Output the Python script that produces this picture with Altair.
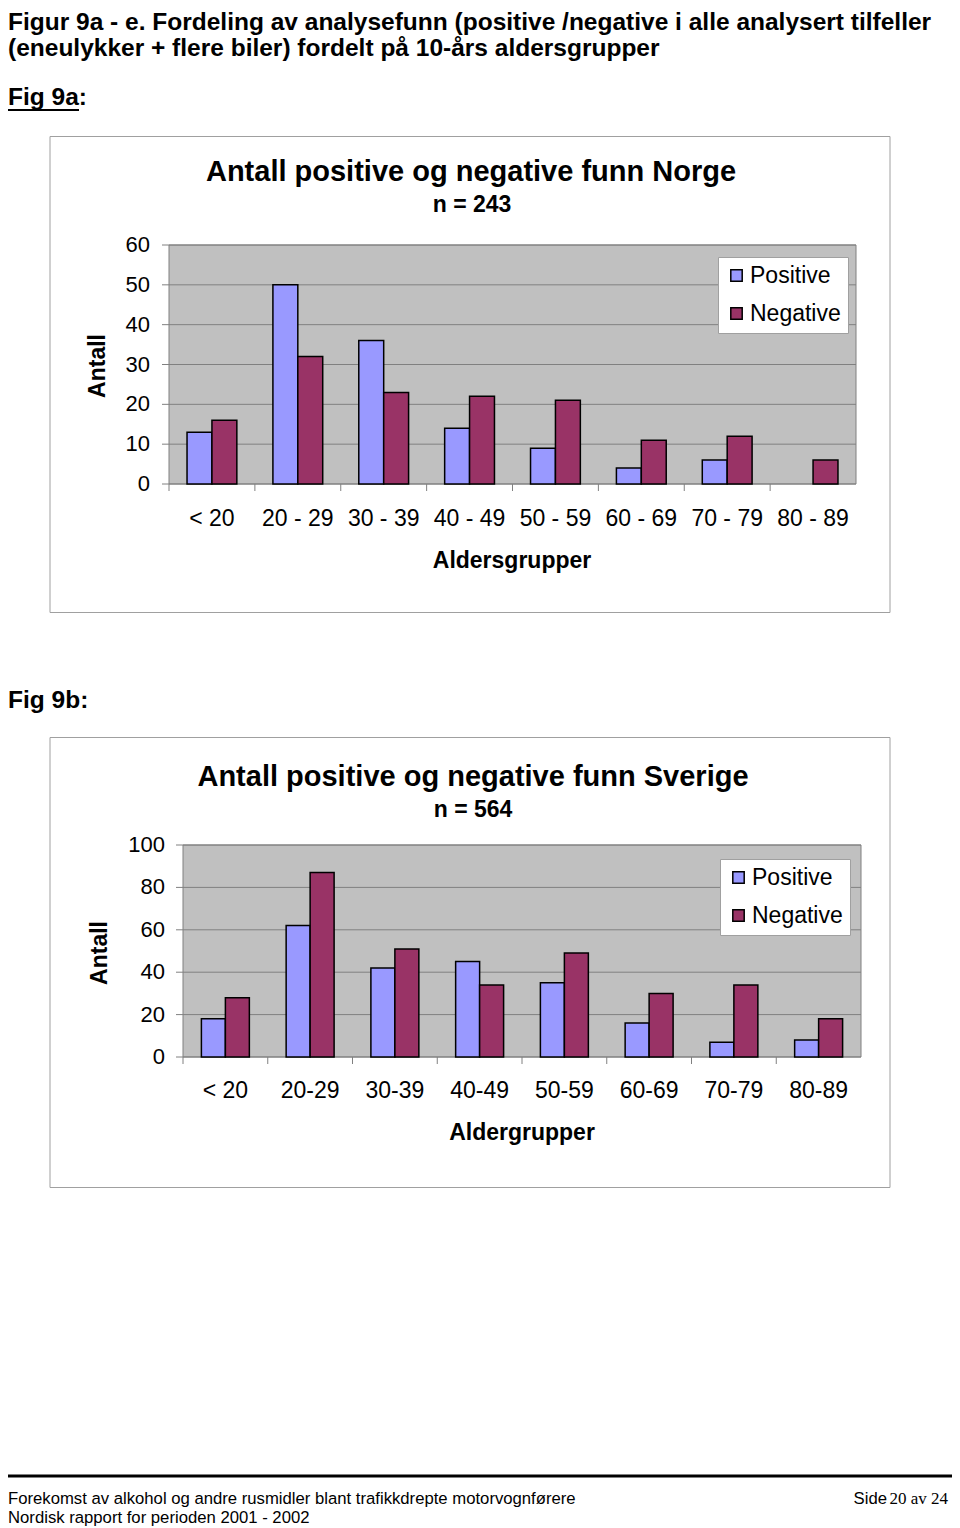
import altair as alt
import pandas as pd

SANS = "Liberation Sans"
SERIF = "Liberation Serif"

# ---------------- data ----------------
series = ["Positive", "Negative"]
colors = ["#9999ff", "#993366"]

categories_no = ["< 20", "20 - 29", "30 - 39", "40 - 49", "50 - 59", "60 - 69", "70 - 79", "80 - 89"]
positive_no = [13, 50, 36, 14, 9, 4, 6, 0]
negative_no = [16, 32, 23, 22, 21, 11, 12, 6]
ticks_no = [0, 10, 20, 30, 40, 50, 60]

categories_se = ["< 20", "20-29", "30-39", "40-49", "50-59", "60-69", "70-79", "80-89"]
positive_se = [18, 62, 42, 45, 35, 16, 7, 8]
negative_se = [28, 87, 51, 34, 49, 30, 34, 18]
ticks_se = [0, 20, 40, 60, 80, 100]

header_lines = [
    "Figur 9a - e. Fordeling av analysefunn (positive /negative i alle analysert tilfeller",
    "(eneulykker + flere biler) fordelt på 10-års  aldersgrupper",
]
footer_lines = [
    "Forekomst av alkohol og andre rusmidler blant trafikkdrepte motorvognførere",
    "Nordisk rapport for perioden 2001 - 2002",
]

W = 944
ONE = pd.DataFrame({"a": [0]})


def txt(s, x, y, size, weight="normal", align="left", angle=0, font=SANS, baseline="middle"):
    return alt.Chart(pd.DataFrame({"t": [s]})).mark_text(
        align=align, baseline=baseline, fontSize=size, fontWeight=weight,
        font=font, angle=angle, color="black"
    ).encode(x=alt.value(x), y=alt.value(y), text="t:N")


def box(x0, x1, y0, y1, fill, stroke=None, sw=1):
    kw = dict(fill=fill, strokeWidth=sw)
    if stroke:
        kw["stroke"] = stroke
    return alt.Chart(ONE).mark_rect(**kw).encode(
        x=alt.value(x0), x2=alt.value(x1), y=alt.value(y0), y2=alt.value(y1))


def panel(cats, pos, neg, ticks, g):
    H = g["H"]
    df = pd.DataFrame({
        "cat": cats * 2,
        "series": [series[0]] * len(cats) + [series[1]] * len(cats),
        "value": pos + neg,
    })
    tdf = pd.DataFrame({"v": ticks})
    cdf = pd.DataFrame({"cat": cats})
    px0, px1, py0, py1 = g["plot"]
    p = g["pad"]
    xs = alt.Scale(domain=cats, range=[px0, px1], paddingInner=p, paddingOuter=p / 2)
    ys = alt.Scale(domain=[ticks[0], ticks[-1]], range=[py1, py0], nice=False, zero=True)
    step = (px1 - px0) / len(cats)

    layers = [
        box(42, 882, 0.5, H - 0.5, "white", "#a0a0a0"),
        box(px0, px1, py0, py1, "#c0c0c0", "#808080"),
        alt.Chart(tdf).mark_rule(color="#808080", strokeWidth=1).encode(
            y=alt.Y("v:Q", scale=ys, axis=None), x=alt.value(px0 - 7), x2=alt.value(px1)),
        alt.Chart(cdf).mark_rule(color="#808080", strokeWidth=1, xOffset=-step * p / 2).encode(
            x=alt.X("cat:N", scale=xs, axis=None, bandPosition=0),
            y=alt.value(py1), y2=alt.value(py1 + 7)),
        alt.Chart(df).transform_filter("datum.value > 0").mark_bar(
            stroke="black", strokeWidth=1.5, opacity=1
        ).encode(
            x=alt.X("cat:N", scale=xs, axis=None),
            xOffset=alt.XOffset("series:N", scale=alt.Scale(domain=series)),
            y=alt.Y("value:Q", scale=ys, axis=None),
            color=alt.Color("series:N", scale=alt.Scale(domain=series, range=colors),
                            legend=alt.Legend(
                                orient="none", legendX=g["leg"][0], legendY=g["leg"][1],
                                title=None, fillColor="white", strokeColor="#a0a0a0",
                                padding=7, symbolType="square", symbolSize=130,
                                symbolStrokeColor="black", symbolStrokeWidth=1.5,
                                symbolOpacity=1, labelFontSize=23, labelFont=SANS,
                                labelColor="black", rowPadding=14, labelOffset=2,
                                labelLimit=0)),
        ),
        alt.Chart(tdf).mark_text(align="right", baseline="middle", fontSize=22, font=SANS,
                                 color="black").encode(
            y=alt.Y("v:Q", scale=ys, axis=None), x=alt.value(g["ylab_x"]), text="v:Q"),
        alt.Chart(cdf).mark_text(align="center", baseline="middle", fontSize=23, font=SANS,
                                 color="black").encode(
            x=alt.X("cat:N", scale=xs, axis=None), y=alt.value(g["xlab_y"]), text="cat:N"),
        txt(g["title"], g["title_xy"][0], g["title_xy"][1], 29, "bold", "center"),
        txt(g["n"], g["n_xy"][0], g["n_xy"][1], 23, "bold", "center"),
        txt("Antall", g["ylab_title"][0], g["ylab_title"][1], 23, "bold", "center", angle=270),
        txt(g["xtitle"], g["xtitle_xy"][0], g["xtitle_xy"][1], 23, "bold", "center"),
    ]
    return alt.layer(*layers).properties(width=W, height=H)


# ---------------- sections ----------------
HF = 24.5
header = alt.layer(
    txt(header_lines[0], 0, 3, HF, "bold", baseline="top"),
    txt(header_lines[1], 0, 48, HF, "bold", baseline="alphabetic"),
    txt("Fig 9a:", 0, 97, HF, "bold", baseline="alphabetic"),
    box(0, 71, 101, 103, "black"),
).properties(width=W, height=128)

p1 = panel(categories_no, positive_no, negative_no, ticks_no, dict(
    H=477, plot=(161, 848, 109, 348), pad=0.42, leg=(710, 121), ylab_x=142, xlab_y=383,
    title="Antall positive og negative funn Norge", title_xy=(463, 36),
    n="n = 243", n_xy=(464, 69), ylab_title=(90, 230),
    xtitle="Aldersgrupper", xtitle_xy=(504, 425)))

mid = alt.layer(
    txt("Fig 9b:", 0, 95, HF, "bold", baseline="alphabetic"),
).properties(width=W, height=124)

p2 = panel(categories_se, positive_se, negative_se, ticks_se, dict(
    H=451, plot=(175, 853, 108, 320), pad=0.434, leg=(712, 122), ylab_x=157, xlab_y=354,
    title="Antall positive og negative funn Sverige", title_xy=(465, 40),
    n="n = 564", n_xy=(465, 73), ylab_title=(92, 216),
    xtitle="Aldergrupper", xtitle_xy=(514, 396)))

footer = alt.layer(
    box(0, W, 286.5, 289.5, "black"),
    txt(footer_lines[0], 0, 311, 16.7),
    txt(footer_lines[1], 0, 330, 16.7),
    txt("Side", 879, 311, 16.7, align="right"),
    txt("20 av 24", 940, 311, 17, align="right", font=SERIF),
).properties(width=W, height=340)

chart = alt.vconcat(header, p1, mid, p2, footer, spacing=0).resolve_scale(
    x="independent", y="independent", color="independent", xOffset="independent"
).resolve_legend(color="independent").properties(
    padding=0, bounds="flush"
).configure_view(stroke=None, fill=None)

chart.save("out.html", embed_options={"renderer": "svg", "actions": False})
